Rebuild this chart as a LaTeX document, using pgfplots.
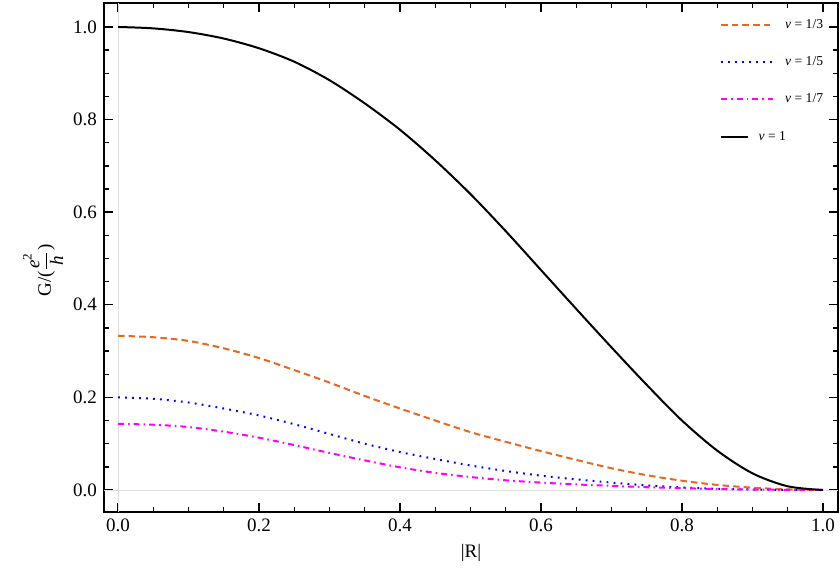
\documentclass[border=0pt]{standalone}
\usepackage{fontspec}
\setmainfont{Liberation Serif}
\usepackage{pgfplots}
\pgfplotsset{compat=1.18}
\definecolor{myorange}{RGB}{232,104,30}
\definecolor{myblue}{RGB}{0,0,255}
\definecolor{mymagenta}{RGB}{255,0,255}
\pgfplotsset{
  longleg/.style={legend image code/.code={\draw[##1] (0pt,0pt) -- (26pt,0pt);}},
  shortleg/.style={legend image code/.code={\draw[##1] (0pt,0pt) -- (13.5pt,0pt);}},
}
\begin{document}
\begin{tikzpicture}
\begin{axis}[
  at={(0,0)}, anchor=south west,
  scale only axis, width=367pt, height=254.5pt,
  xmin=-0.0199, xmax=1.0213, ymin=-0.0475, ymax=1.0518,
  xtick={0,0.2,0.4,0.6,0.8,1.0}, ytick={0,0.2,0.4,0.6,0.8,1.0},
  minor x tick num=3, minor y tick num=3,
  xtick pos=both, ytick pos=both, xticklabel pos=lower, yticklabel pos=left,
  tick align=inside, major tick length=4.5pt, minor tick length=2.5pt,
  every tick/.style={black, line width=0.7pt},
  axis line style={line width=1pt},
  /pgf/number format/assume math mode=true,
  /pgf/number format/fixed, /pgf/number format/fixed zerofill, /pgf/number format/precision=1,
  tick label style={font=\fontsize{9.5}{11}\selectfont},
  xlabel={|R|}, ylabel={G/($\displaystyle\frac{\textit{e}^{\mbox{\fontsize{6.5}{7}\selectfont 2}}}{\textit{h}}$)},
  label style={font=\fontsize{9.5}{11}\selectfont},
  xlabel style={at={(rel axis cs:0.5,-0.0806)}, anchor=center},
  ylabel style={at={(rel axis cs:-0.083,0.475)}, anchor=center},
  legend cell align=left,
  legend style={draw=none, fill=none, at={(rel axis cs:0.839,0.971)}, anchor=north west,
    font=\fontsize{6.8}{8}\selectfont, row sep=12.2pt, /tikz/column sep=5.5pt, inner sep=0pt,
    nodes={inner sep=0pt, text height=5pt, text depth=1.5pt}},
]
\draw[black!12, line width=0.5pt] (axis cs:0,-0.0475) -- (axis cs:0,1.0518);
\draw[black!12, line width=0.5pt] (axis cs:-0.0199,0) -- (axis cs:1.0213,0);

\addplot[myorange, line width=1pt, dash pattern=on 3.3pt off 2pt, smooth, longleg] coordinates {
(0,0.333) (0.05,0.330) (0.10,0.322) (0.15,0.306) (0.20,0.285) (0.25,0.259)
(0.30,0.232) (0.35,0.203) (0.40,0.176) (0.45,0.150) (0.50,0.125) (0.55,0.104)
(0.60,0.084) (0.65,0.065) (0.70,0.047) (0.75,0.032) (0.80,0.020) (0.85,0.011)
(0.90,0.005) (0.95,0.0013) (1.0,0)};
\addlegendentry{\textit{ν} = 1/3}

\addplot[myblue, line width=1pt, dash pattern=on 0.9pt off 2.6pt, smooth, longleg] coordinates {
(0,0.200) (0.05,0.197) (0.10,0.189) (0.15,0.176) (0.20,0.161) (0.25,0.142)
(0.30,0.121) (0.35,0.100) (0.40,0.082) (0.45,0.067) (0.50,0.053) (0.55,0.041)
(0.60,0.031) (0.65,0.023) (0.70,0.016) (0.75,0.010) (0.80,0.0055) (0.85,0.0025)
(0.90,0.001) (0.95,0.0003) (1.0,0)};
\addlegendentry{\textit{ν} = 1/5}

\addplot[mymagenta, line width=1pt, dash pattern=on 3pt off 2pt on 0.8pt off 2pt, smooth, longleg] coordinates {
(0,0.1429) (0.05,0.141) (0.10,0.136) (0.15,0.126) (0.20,0.113) (0.25,0.097)
(0.30,0.080) (0.35,0.064) (0.40,0.049) (0.45,0.037) (0.50,0.028) (0.55,0.021)
(0.60,0.016) (0.65,0.012) (0.70,0.009) (0.75,0.006) (0.80,0.004) (0.85,0.002)
(0.90,0.001) (0.95,0.0003) (1.0,0)};
\addlegendentry{\textit{ν} = 1/7}

\addplot[black, line width=1pt, smooth, shortleg] coordinates {
(0,1.000) (0.05,0.997) (0.10,0.989) (0.15,0.975) (0.20,0.954) (0.25,0.925)
(0.30,0.885) (0.35,0.835) (0.40,0.778) (0.45,0.712) (0.50,0.639) (0.55,0.559)
(0.60,0.475) (0.65,0.391) (0.70,0.308) (0.75,0.227) (0.80,0.150) (0.85,0.085)
(0.90,0.036) (0.95,0.008) (1.0,0)};
\addlegendentry{\hspace{-14pt}\textit{ν} = 1}
\end{axis}
\pgfresetboundingbox
\path[use as bounding box] (-52pt,-32pt) rectangle (368pt,256pt);
\end{tikzpicture}
\end{document}
